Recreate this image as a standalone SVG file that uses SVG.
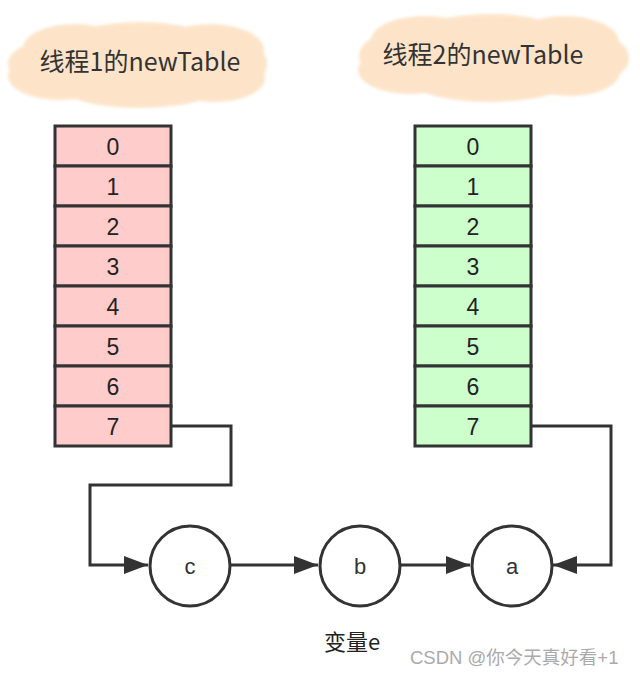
<svg xmlns="http://www.w3.org/2000/svg" width="640" height="676" viewBox="0 0 640 676">
<style>
.cloud{fill:#fde4c9;}
.ct{font-family:"Noto Sans CJK SC","Liberation Sans",sans-serif;font-size:25px;fill:#333;text-anchor:middle;}
.cell{stroke:#333;stroke-width:3;}
.red{fill:#ffcccc;}
.green{fill:#ccffcc;}
.num{font-family:"Liberation Sans",Arial,sans-serif;font-size:23px;fill:#222;text-anchor:middle;}
.node{fill:#fff;stroke:#333;stroke-width:3;}
.lt{font-family:"Liberation Sans",Arial,sans-serif;font-size:22px;fill:#333;text-anchor:middle;}
.edge{fill:none;stroke:#333;stroke-width:3;}
.lab{font-family:"Noto Sans CJK SC","Liberation Sans",sans-serif;font-size:22px;fill:#222;}
.wm{font-family:"Liberation Sans","Noto Sans CJK SC",sans-serif;font-size:18.5px;fill:#aaa;}
</style>
<defs>
<marker id="arrB" viewBox="0 0 24 18" refX="24" refY="9" markerWidth="24" markerHeight="18" markerUnits="userSpaceOnUse" orient="auto">
<path d="M0,0 L24,9 L0,18 Z" fill="#333"/>
</marker>
<filter id="soft" x="-10%" y="-20%" width="120%" height="140%"><feGaussianBlur stdDeviation="1.5"/></filter>
</defs>

<g id="cloud1">
<g class="cloud" filter="url(#soft)">
<ellipse cx="75" cy="48" rx="52" ry="24"/>
<ellipse cx="140" cy="42" rx="70" ry="20"/>
<ellipse cx="210" cy="50" rx="54" ry="26"/>
<ellipse cx="60" cy="76" rx="52" ry="24"/>
<ellipse cx="140" cy="82" rx="85" ry="26"/>
<ellipse cx="215" cy="78" rx="50" ry="24"/>
<ellipse cx="38" cy="64" rx="30" ry="20"/>
<ellipse cx="245" cy="64" rx="22" ry="20"/>
<rect x="40" y="45" width="210" height="40"/>
</g>
<text class="ct" x="140" y="71">线程1的newTable</text>
</g>

<g id="cloud2">
<g class="cloud" filter="url(#soft)">
<ellipse cx="425" cy="40" rx="54" ry="24"/>
<ellipse cx="490" cy="34" rx="70" ry="20"/>
<ellipse cx="565" cy="42" rx="54" ry="26"/>
<ellipse cx="410" cy="70" rx="52" ry="24"/>
<ellipse cx="490" cy="76" rx="85" ry="26"/>
<ellipse cx="570" cy="72" rx="50" ry="24"/>
<ellipse cx="385" cy="56" rx="26" ry="20"/>
<ellipse cx="605" cy="58" rx="24" ry="20"/>
<rect x="385" y="38" width="220" height="40"/>
</g>
<text class="ct" x="483" y="64">线程2的newTable</text>
</g>

<g id="table1">
<rect class="cell red" x="55" y="126" width="116" height="40"/>
<rect class="cell red" x="55" y="166" width="116" height="40"/>
<rect class="cell red" x="55" y="206" width="116" height="40"/>
<rect class="cell red" x="55" y="246" width="116" height="40"/>
<rect class="cell red" x="55" y="286" width="116" height="40"/>
<rect class="cell red" x="55" y="326" width="116" height="40"/>
<rect class="cell red" x="55" y="366" width="116" height="40"/>
<rect class="cell red" x="55" y="406" width="116" height="40"/>
<text class="num" x="113" y="155">0</text>
<text class="num" x="113" y="195">1</text>
<text class="num" x="113" y="235">2</text>
<text class="num" x="113" y="275">3</text>
<text class="num" x="113" y="315">4</text>
<text class="num" x="113" y="355">5</text>
<text class="num" x="113" y="395">6</text>
<text class="num" x="113" y="435">7</text>
</g>

<g id="table2">
<rect class="cell green" x="415" y="126" width="116" height="40"/>
<rect class="cell green" x="415" y="166" width="116" height="40"/>
<rect class="cell green" x="415" y="206" width="116" height="40"/>
<rect class="cell green" x="415" y="246" width="116" height="40"/>
<rect class="cell green" x="415" y="286" width="116" height="40"/>
<rect class="cell green" x="415" y="326" width="116" height="40"/>
<rect class="cell green" x="415" y="366" width="116" height="40"/>
<rect class="cell green" x="415" y="406" width="116" height="40"/>
<text class="num" x="473" y="155">0</text>
<text class="num" x="473" y="195">1</text>
<text class="num" x="473" y="235">2</text>
<text class="num" x="473" y="275">3</text>
<text class="num" x="473" y="315">4</text>
<text class="num" x="473" y="355">5</text>
<text class="num" x="473" y="395">6</text>
<text class="num" x="473" y="435">7</text>
</g>

<g id="connectors">
<path class="edge" d="M171,426 H231 V485 H90 V565 H148" marker-end="url(#arrB)"/>
<path class="edge" d="M231,565 H318" marker-end="url(#arrB)"/>
<path class="edge" d="M401,565 H470" marker-end="url(#arrB)"/>
<path class="edge" d="M531,426 H611 V565 H553" marker-end="url(#arrB)"/>
</g>

<g id="node-c">
<circle class="node" cx="190" cy="566" r="40"/>
<text class="lt" x="190" y="574">c</text>
</g>
<g id="node-b">
<circle class="node" cx="360" cy="566" r="40"/>
<text class="lt" x="360" y="574">b</text>
</g>
<g id="node-a">
<circle class="node" cx="512" cy="566" r="40"/>
<text class="lt" x="512" y="574">a</text>
</g>

<text class="lab" x="324" y="650">变量e</text>
<text class="wm" x="410" y="664">CSDN @你今天真好看+1</text>
</svg>
